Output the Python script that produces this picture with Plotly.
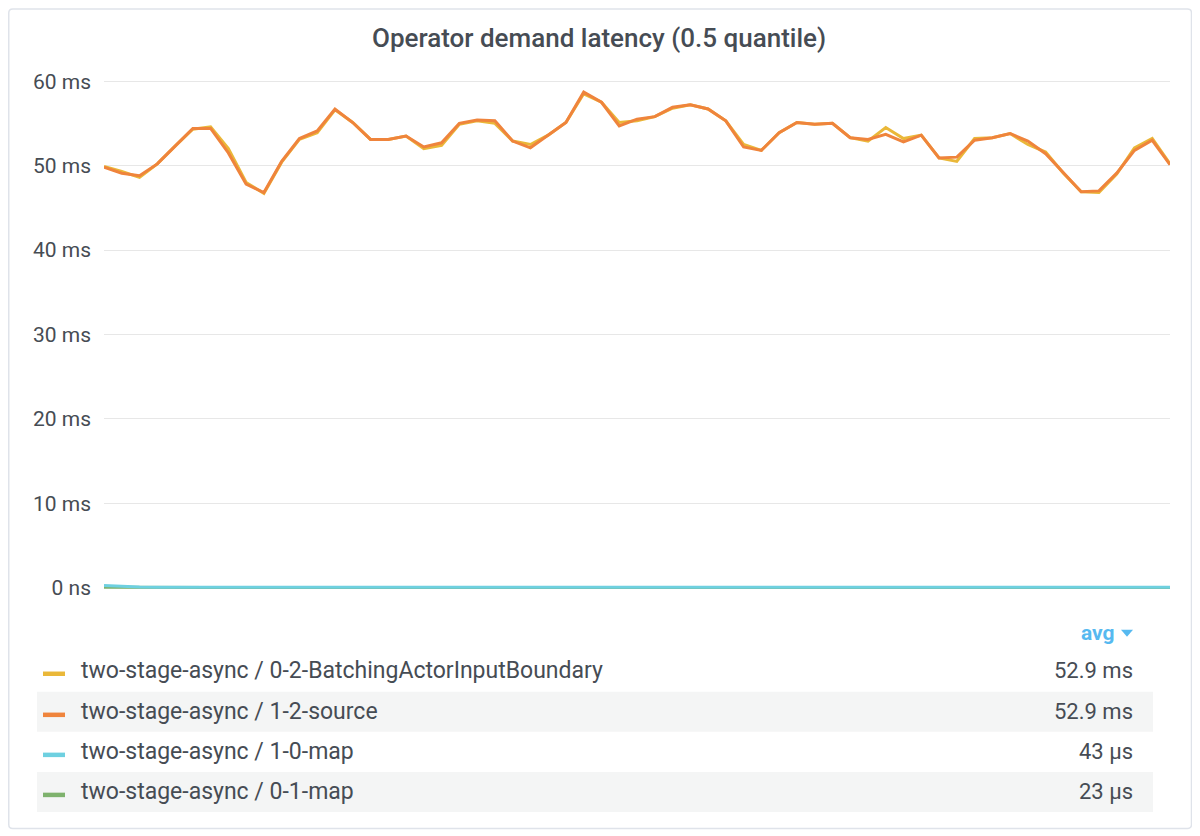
import plotly.graph_objects as go

# ---------------- data ----------------
steps = list(range(61))

batching_boundary_ms = [49.9, 49.3, 48.6, 50.2, 52.3, 54.3, 54.6, 52.0, 48.0, 46.7,
                        50.4, 53.1, 53.9, 56.6, 55.1, 53.1, 53.1, 53.5, 52.0, 52.4,
                        54.9, 55.3, 55.0, 52.9, 52.5, 53.6, 55.1, 58.5, 57.5, 55.1,
                        55.3, 55.8, 56.8, 57.2, 56.7, 55.3, 52.5, 51.8, 53.9, 55.1,
                        54.9, 55.0, 53.3, 52.9, 54.5, 53.2, 53.6, 50.9, 50.5, 53.2,
                        53.3, 53.8, 52.5, 51.6, 49.1, 46.9, 46.8, 49.0, 52.1, 53.2,
                        50.2]

source_ms = [49.8, 49.1, 48.8, 50.2, 52.3, 54.4, 54.4, 51.5, 47.8, 46.8,
             50.5, 53.2, 54.1, 56.7, 55.1, 53.1, 53.1, 53.5, 52.2, 52.7,
             55.0, 55.4, 55.3, 52.9, 52.1, 53.6, 55.1, 58.7, 57.5, 54.7,
             55.5, 55.8, 56.9, 57.2, 56.7, 55.3, 52.2, 51.8, 53.9, 55.1,
             54.9, 55.0, 53.3, 53.1, 53.7, 52.8, 53.6, 50.9, 51.0, 53.0,
             53.3, 53.8, 52.9, 51.4, 49.1, 46.9, 47.0, 49.1, 51.8, 53.0,
             50.1]

map_1_0_ms = [0.25, 0.15, 0.08, 0.05] + [0.037] * 57
map_0_1_ms = [0.06, 0.04, 0.03] + [0.022] * 58

series_names = ["two-stage-async / 0-2-BatchingActorInputBoundary",
                "two-stage-async / 1-2-source",
                "two-stage-async / 1-0-map",
                "two-stage-async / 0-1-map"]
avg_labels = ["52.9 ms", "52.9 ms", "43 µs", "23 µs"]

y_tick_vals = [0, 10, 20, 30, 40, 50, 60]
y_tick_text = ["0 ns", "10 ms", "20 ms", "30 ms", "40 ms", "50 ms", "60 ms"]

title_text = "Operator demand latency (0.5 quantile)"

# ---------------- style ----------------
OFF = 8                      # page body margin
KY = 0.9905                  # observed vertical scale of the capture
W, H = 1200 - OFF, 828
YELLOW, ORANGE, CYAN, GREEN = "#EAB839", "#EF843C", "#6ED0E0", "#7EB26D"
TEXT = "#464c54"
FONT = "Roboto"


def px(x):
    return (x - OFF) / W


def py(y):
    return 1 - (y / KY - OFF) / H


# plot area geometry in screen pixels
x_left, x_right = 104, 1170
y_zero, y_sixty = 587, 81
scale = (y_zero - y_sixty) / 60.0
y_min, y_max = -0.6, 61.9
plot_bottom = y_zero - y_min * scale
plot_top = y_sixty - (y_max - 60) * scale

fig = go.Figure()
series = [
    (batching_boundary_ms, YELLOW, series_names[0]),
    (source_ms, ORANGE, series_names[1]),
    (map_0_1_ms, GREEN, series_names[3]),
    (map_1_0_ms, CYAN, series_names[2]),
]
for vals, col, name in series:
    fig.add_trace(go.Scatter(x=steps, y=vals, mode="lines", name=name,
                             line=dict(color=col, width=3),
                             hoverinfo="skip", showlegend=False))

shapes = []
annotations = []

# panel border with rounded corners
bx0, by0, bx1, by1, r = 8.75, 9, 1191.5, 827.5, 4
path = (f"M {px(bx0+r)},{py(by0)} L {px(bx1-r)},{py(by0)} "
        f"Q {px(bx1)},{py(by0)} {px(bx1)},{py(by0+r)} "
        f"L {px(bx1)},{py(by1-r)} Q {px(bx1)},{py(by1)} {px(bx1-r)},{py(by1)} "
        f"L {px(bx0+r)},{py(by1)} Q {px(bx0)},{py(by1)} {px(bx0)},{py(by1-r)} "
        f"L {px(bx0)},{py(by0+r)} Q {px(bx0)},{py(by0)} {px(bx0+r)},{py(by0)} Z")
shapes.append(dict(type="path", xref="paper", yref="paper", path=path,
                   line=dict(color="#dfe3ea", width=1.5), layer="below"))

# title
annotations.append(dict(text=title_text, x=px(599), y=py(38), xref="paper", yref="paper",
                        showarrow=False, xanchor="center", yanchor="middle",
                        font=dict(family=FONT, size=26, color=TEXT, weight=500)))

# legend table
row_centers = [670, 711, 751, 791]
legend_colors = [YELLOW, ORANGE, CYAN, GREEN]
for i, yc in enumerate(row_centers):
    if i % 2 == 1:
        shapes.append(dict(type="rect", xref="paper", yref="paper",
                           x0=px(37), x1=px(1153), y0=py(yc - 20), y1=py(yc + 20),
                           fillcolor="#f4f5f5", line=dict(width=0), layer="below"))
    shapes.append(dict(type="line", xref="paper", yref="paper",
                       x0=px(43), x1=px(65), y0=py(yc + 3), y1=py(yc + 3),
                       line=dict(color=legend_colors[i], width=4.5)))
    annotations.append(dict(text=series_names[i], x=px(79), y=py(yc), xref="paper", yref="paper",
                            showarrow=False, xanchor="left", yanchor="middle",
                            font=dict(family=FONT, size=23, color=TEXT)))
    annotations.append(dict(text=avg_labels[i], x=px(1135), y=py(yc), xref="paper", yref="paper",
                            showarrow=False, xanchor="right", yanchor="middle",
                            font=dict(family=FONT, size=22, color=TEXT)))

# sorted-column header "avg" with a small down triangle
SORT_BLUE = "#56b9f0"
annotations.append(dict(text="avg", x=px(1117), y=py(632),
                        xref="paper", yref="paper", showarrow=False,
                        xanchor="right", yanchor="middle",
                        font=dict(family=FONT, size=21, color=SORT_BLUE, weight=700)))
tri = f"M {px(1121)},{py(629)} L {px(1133)},{py(629)} L {px(1127)},{py(636)} Z"
shapes.append(dict(type="path", xref="paper", yref="paper", path=tri,
                   fillcolor=SORT_BLUE, line=dict(width=0)))

fig.update_layout(
    width=W, height=H,
    margin=dict(l=0, r=0, t=0, b=0),
    paper_bgcolor="white", plot_bgcolor="white",
    shapes=shapes, annotations=annotations,
    showlegend=False,
    xaxis=dict(domain=[px(x_left), px(x_right)], range=[0, 60],
               showgrid=False, zeroline=False, showticklabels=False,
               showline=False, ticks=""),
    yaxis=dict(domain=[py(plot_bottom), py(plot_top)], range=[y_min, y_max],
               tickvals=y_tick_vals, ticktext=y_tick_text,
               showgrid=True, gridcolor="#e7e7e7", gridwidth=1.3,
               zeroline=False, showline=False, ticks="",
               ticklabelstandoff=12,
               tickfont=dict(family=FONT, size=21, color=TEXT)),
)

fig.write_html("out.html")
